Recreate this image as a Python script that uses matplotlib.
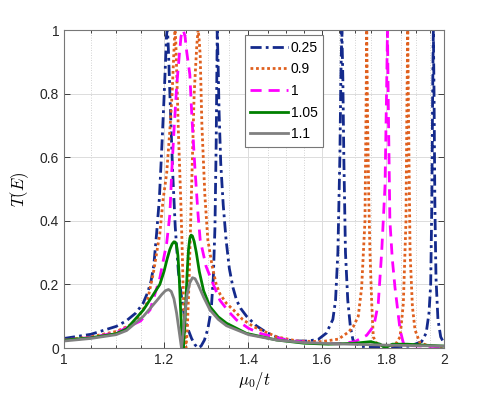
import matplotlib

matplotlib.use("Agg")
import matplotlib.pyplot as plt
import numpy as np
from matplotlib.ticker import FixedLocator, NullFormatter

plt.rcParams["font.family"] = ["Liberation Sans", "DejaVu Sans"]
plt.rcParams["mathtext.fontset"] = "cm"

# ── data (x = mu0/t, y = T(E)) ────────────────────────────────────────
x_025 = [1.000, 1.050, 1.100, 1.120, 1.140, 1.155, 1.165, 1.172, 1.178, 1.184,
         1.190, 1.195, 1.200, 1.204, 1.2055, 1.207, 1.2085, 1.210, 1.214, 1.219,
         1.225, 1.232, 1.240, 1.247, 1.255, 1.262, 1.270, 1.277, 1.284, 1.292,
         1.300, 1.308, 1.313, 1.317, 1.320, 1.3225, 1.3245, 1.327, 1.331, 1.337,
         1.344, 1.352, 1.361, 1.370, 1.380, 1.395, 1.420, 1.448, 1.483, 1.520,
         1.560, 1.590, 1.614, 1.633, 1.641, 1.648, 1.654, 1.657, 1.660, 1.663,
         1.666, 1.671, 1.678, 1.686, 1.694, 1.716, 1.800, 1.880, 1.920, 1.936,
         1.946, 1.952, 1.956, 1.959, 1.9615, 1.964, 1.967, 1.971, 1.978, 1.988,
         2.000]
t_025 = [0.030, 0.043, 0.068, 0.085, 0.110, 0.140, 0.175, 0.210, 0.260, 0.360,
         0.470, 0.620, 0.780, 0.920, 0.980, 1.000, 0.980, 0.930, 0.760, 0.560,
         0.380, 0.240, 0.150, 0.090, 0.055, 0.030, 0.010, 0.000, 0.006, 0.025,
         0.060, 0.120, 0.220, 0.380, 0.650, 1.000, 0.900, 0.740, 0.580, 0.450,
         0.340, 0.250, 0.190, 0.150, 0.125, 0.100, 0.070, 0.048, 0.030, 0.022,
         0.022, 0.027, 0.047, 0.090, 0.150, 0.300, 0.600, 0.850, 1.000, 0.850,
         0.600, 0.300, 0.150, 0.067, 0.025, 0.005, 0.003, 0.006, 0.020, 0.047,
         0.110, 0.200, 0.450, 0.800, 1.000, 0.800, 0.450, 0.220, 0.090, 0.035,
         0.015]

x_09 = [1.000, 1.050, 1.100, 1.137, 1.163, 1.177, 1.191, 1.198, 1.206, 1.213,
        1.218, 1.221, 1.2235, 1.2246, 1.226, 1.228, 1.232, 1.237, 1.240, 1.243,
        1.246, 1.249, 1.252, 1.256, 1.262, 1.268, 1.274, 1.277, 1.279, 1.282,
        1.286, 1.293, 1.300, 1.310, 1.320, 1.329, 1.345, 1.362, 1.385, 1.413,
        1.474, 1.530, 1.600, 1.650, 1.680, 1.695, 1.7105, 1.721, 1.7315, 1.735,
        1.737, 1.740, 1.744, 1.7474, 1.753, 1.758, 1.770, 1.800, 1.830, 1.846,
        1.857, 1.866, 1.869, 1.872, 1.875, 1.880, 1.888, 1.897, 1.914, 1.950,
        2.000]
t_09 = [0.025, 0.035, 0.052, 0.078, 0.140, 0.235, 0.360, 0.465, 0.550, 0.685,
        0.800, 0.900, 0.980, 1.000, 0.970, 0.880, 0.680, 0.480, 0.340, 0.180,
        0.050, 0.000, 0.050, 0.200, 0.500, 0.800, 0.950, 1.000, 0.980, 0.920,
        0.700, 0.480, 0.340, 0.260, 0.200, 0.170, 0.140, 0.120, 0.090, 0.067,
        0.035, 0.022, 0.020, 0.028, 0.050, 0.067, 0.100, 0.190, 0.400, 0.750,
        1.000, 0.700, 0.450, 0.300, 0.140, 0.035, 0.012, 0.005, 0.010, 0.035,
        0.140, 0.400, 0.750, 1.000, 0.700, 0.300, 0.130, 0.057, 0.016, 0.006,
        0.004]

x_1 = [1.000, 1.050, 1.100, 1.150, 1.170, 1.191, 1.206, 1.213, 1.217, 1.222,
       1.228, 1.234, 1.238, 1.243, 1.247, 1.251, 1.258, 1.263, 1.270, 1.277,
       1.282, 1.296, 1.313, 1.329, 1.350, 1.370, 1.400, 1.430, 1.500, 1.580,
       1.650, 1.700, 1.737, 1.760, 1.774, 1.785, 1.796, 1.801, 1.804, 1.807,
       1.812, 1.820, 1.829, 1.846, 1.857, 1.870, 1.950, 2.000]
t_1 = [0.025, 0.033, 0.048, 0.085, 0.120, 0.220, 0.330, 0.420, 0.550, 0.680,
       0.820, 0.920, 0.980, 1.000, 0.980, 0.930, 0.860, 0.720, 0.560, 0.420,
       0.340, 0.256, 0.200, 0.150, 0.115, 0.088, 0.062, 0.046, 0.025, 0.015,
       0.013, 0.020, 0.040, 0.070, 0.140, 0.300, 0.510, 0.800, 1.000, 0.750,
       0.400, 0.280, 0.190, 0.057, 0.016, 0.008, 0.005, 0.004]

x_105 = [1.000, 1.050, 1.100, 1.121, 1.156, 1.191, 1.200, 1.207, 1.213, 1.218,
         1.222, 1.225, 1.228, 1.231, 1.234, 1.237, 1.240, 1.243, 1.246, 1.249,
         1.252, 1.255, 1.258, 1.261, 1.264, 1.268, 1.273, 1.280, 1.290, 1.305,
         1.325, 1.345, 1.395, 1.474, 1.550, 1.620, 1.700, 1.750, 1.780, 1.796,
         1.820, 1.870, 1.950, 2.000]
t_105 = [0.025, 0.032, 0.045, 0.060, 0.120, 0.200, 0.240, 0.280, 0.310, 0.327,
         0.334, 0.333, 0.322, 0.290, 0.220, 0.120, 0.040, 0.000, 0.060, 0.150,
         0.240, 0.310, 0.345, 0.355, 0.352, 0.335, 0.300, 0.240, 0.180, 0.130,
         0.098, 0.078, 0.046, 0.025, 0.015, 0.012, 0.015, 0.020, 0.012, 0.000,
         0.012, 0.012, 0.008, 0.006]

x_11 = [1.000, 1.050, 1.100, 1.121, 1.156, 1.185, 1.195, 1.203, 1.210, 1.216,
        1.222, 1.228, 1.234, 1.239, 1.243, 1.247, 1.252, 1.258, 1.264, 1.270,
        1.277, 1.290, 1.305, 1.325, 1.345, 1.400, 1.474, 1.550, 1.650, 1.800,
        2.000]
t_11 = [0.022, 0.030, 0.042, 0.055, 0.100, 0.150, 0.168, 0.180, 0.184, 0.178,
        0.155, 0.110, 0.050, 0.000, 0.050, 0.110, 0.170, 0.205, 0.221, 0.218,
        0.200, 0.160, 0.120, 0.090, 0.070, 0.042, 0.025, 0.017, 0.013, 0.009,
        0.006]

labels = ["0.25", "0.9", "1", "1.05", "1.1"]
x_ticks = [1, 1.2, 1.4, 1.6, 1.8, 2]
y_ticks = [0, 0.2, 0.4, 0.6, 0.8, 1]

NAVY, ORANGE, MAGENTA, GREEN, GRAY = "#142a8c", "#e0601e", "#ff00ff", "#008000", "#808080"


def main():
    fig = plt.figure(figsize=(4.91, 3.94), dpi=100)
    ax = fig.add_axes([64 / 491, 46 / 394, 380 / 491, 318 / 394])

    lw = 2.0
    ax.plot(x_025, t_025, color=NAVY, lw=lw, ls=(0, (4, 1.5, 1, 1.5)), label=labels[0])
    ax.plot(x_09, t_09, color=ORANGE, lw=lw, ls=(0, (1, 1)), label=labels[1])
    ax.plot(x_1, t_1, color=MAGENTA, lw=lw, ls=(0, (4, 2.5)), label=labels[2])
    ax.plot(x_105, t_105, color=GREEN, lw=lw, label=labels[3])
    ax.plot(x_11, t_11, color=GRAY, lw=lw, label=labels[4])

    ax.set_xscale("log")
    ax.set_xlim(1, 2)
    ax.set_ylim(0, 1)
    ax.xaxis.set_major_locator(FixedLocator(x_ticks))
    ax.set_xticklabels([f"{v:g}" for v in x_ticks])
    minors = [round(v, 2) for v in np.arange(1.05, 2.0, 0.05)]
    ax.xaxis.set_minor_locator(FixedLocator([v for v in minors if v not in x_ticks]))
    ax.xaxis.set_minor_formatter(NullFormatter())
    ax.set_yticks(y_ticks)
    ax.set_yticklabels([f"{v:g}" for v in y_ticks])

    ax.grid(which="major", color="#dcdcdc", lw=0.7, ls="-")
    ax.grid(which="minor", axis="x", color="#c4c4c4", lw=0.6, ls=(0, (1, 2)))
    ax.set_axisbelow(True)

    ax.tick_params(which="both", direction="in", top=True, right=True,
                   colors="#262626", labelsize=10, width=0.6)
    ax.tick_params(which="major", length=4)
    ax.tick_params(which="minor", length=2)
    for s in ax.spines.values():
        s.set_color("#777777")
        s.set_linewidth(0.8)

    ax.set_xlabel(r"$\mu_0/t$", fontsize=12, labelpad=2)
    ax.set_ylabel(r"$T(E)$", fontsize=12, labelpad=6)

    leg = ax.legend(loc="upper left", bbox_to_anchor=(0.476, 0.984), fontsize=10,
                    handlelength=2.7, handletextpad=0.2, labelspacing=0.55,
                    borderpad=0.4, fancybox=False, framealpha=1, borderaxespad=0)
    leg.get_frame().set_edgecolor("#777777")
    leg.get_frame().set_linewidth(0.8)

    fig.savefig("out.png", dpi=100)
    plt.close(fig)


if __name__ == "__main__":
    main()
